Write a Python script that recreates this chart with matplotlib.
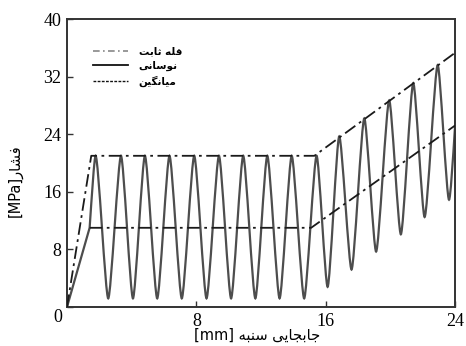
import matplotlib
matplotlib.use("Agg")
import matplotlib.pyplot as plt
from matplotlib.path import Path
from matplotlib.patches import PathPatch
from matplotlib.lines import Line2D

# ---- data ----
# loading ramp of the oscillating curve
ramp_x = [0.0, 1.4]
ramp_y = [0.0, 11.0]
# successive extrema of the oscillating pressure (peaks / troughs)
osc_x = [1.4, 1.77, 2.55, 3.34, 4.08, 4.82, 5.58, 6.34, 7.10, 7.87, 8.63, 9.40,
         10.15, 10.90, 11.65, 12.39, 13.15, 13.90, 14.67, 15.44, 16.12, 16.84,
         17.60, 18.39, 19.12, 19.93, 20.65, 21.42, 22.12, 22.93, 23.63, 24.40]
osc_y = [11.0, 21.0, 1.2, 21.0, 1.2, 21.0, 1.2, 21.0, 1.2, 21.0, 1.2, 21.0,
         1.2, 21.0, 1.2, 21.0, 1.2, 21.0, 1.2, 21.0, 2.8, 23.7,
         5.2, 26.2, 7.7, 28.7, 10.1, 31.1, 12.5, 33.6, 14.9, 36.2]
# constant-peak line
peak_x = [0.0, 1.5, 15.3, 24.0]
peak_y = [0.0, 21.0, 21.0, 35.3]
# mean line
mean_x = [1.4, 15.1, 24.0]
mean_y = [11.0, 11.0, 25.2]

x_ticks = [0, 8, 16, 24]
x_ticklabels = ["", "8", "16", "24"]
y_ticks = [0, 8, 16, 24, 32, 40]
y_ticklabels = ["", "8", "16", "24", "32", "40"]

# Persian texts (pre-shaped, visual order)
lbl_peak = "\uFE96\uFE91\uFE8E\uFE9B \uFEEA\uFEE0\uFED7"     # قله ثابت
lbl_osc = "\uFEF0\uFEE7\uFE8E\uFEB3\uFEEE\uFEE7"             # نوسانی
lbl_mean = "\uFEE6\uFEF4\uFB95\uFEE7\uFE8E\uFEF4\uFEE3"      # میانگین
xlabel = "[mm] \uFEEA\uFE92\uFEE8\uFEB3 \uFEF0\uFEF3\uFE8E\uFEA0\uFE91\uFE8E\uFE9F"  # جابجایی سنبه [mm]
ylabel = "[MPa]\uFEAD\uFE8E\uFEB8\uFED3"                      # فشار[MPa]

# ---- figure ----
fig = plt.figure(figsize=(4.66, 3.46), dpi=100)
ax = fig.add_axes([67/466, 1 - 307/346, 388/466, 288/346])

ax.set_xlim(0, 24)
ax.set_ylim(0, 40)

osc_color = "#4d4d4d"
line_color = "#1a1a1a"

# oscillating curve: ramp + smooth half-waves between extrema
verts = [(ramp_x[0], ramp_y[0])]
codes = [Path.MOVETO]
for xv, yv in zip(ramp_x[1:], ramp_y[1:]):
    verts.append((xv, yv)); codes.append(Path.LINETO)
k = 0.22
for i in range(len(osc_x) - 1):
    xa, ya, xb, yb = osc_x[i], osc_y[i], osc_x[i + 1], osc_y[i + 1]
    dx, dy = xb - xa, yb - ya
    if i == 0:
        p1 = (xa + dx / 3, ya + dy * 0.4)
    else:
        p1 = (xa + k * dx, ya)
    p2 = (xb - k * dx, yb)
    verts += [p1, p2, (xb, yb)]
    codes += [Path.CURVE4] * 3
ax.add_patch(PathPatch(Path(verts, codes), facecolor="none",
                       edgecolor=osc_color, lw=1.6, zorder=2))

ax.plot(peak_x, peak_y, color=line_color, lw=1.3,
        dashes=(7, 2.5, 1.5, 2.5), zorder=3)
ax.plot(mean_x, mean_y, color=line_color, lw=1.3,
        dashes=(7, 2.5, 1.5, 2.5), zorder=3)

# axes styling
for s in ax.spines.values():
    s.set_color("#333333")
    s.set_linewidth(1.4)
ax.set_xticks(x_ticks)
ax.set_xticklabels(x_ticklabels)
ax.set_yticks(y_ticks)
ax.set_yticklabels(y_ticklabels)
ax.tick_params(direction="in", length=4, width=1.0, color="#333333",
               labelsize=13, pad=4)
for t in ax.get_xticklabels() + ax.get_yticklabels():
    t.set_family("Liberation Serif")
ax.annotate("0", xy=(0, 0), xycoords="data", xytext=(-9, -10),
            textcoords="offset pixels", ha="center", va="center",
            fontsize=13, family="Liberation Serif")

ax.set_xlabel(xlabel, family=["DejaVu Sans"], fontsize=10.5, va="center")
ax.xaxis.set_label_coords(0.49, -0.098)
ax.set_ylabel(ylabel, family=["DejaVu Sans"], fontsize=10.5)
ax.yaxis.set_label_coords(-0.115, 0.44)

handles = [
    Line2D([], [], color="#888888", lw=1.2, dashes=(4, 2, 1, 2)),
    Line2D([], [], color="#111111", lw=1.3),
    Line2D([], [], color="#111111", lw=1.0, dashes=(2, 1)),
]
leg = ax.legend(handles, [lbl_peak, lbl_osc, lbl_mean], loc="upper left",
                bbox_to_anchor=(0.067, 0.905), frameon=False,
                handlelength=3.4, handletextpad=1.0, labelspacing=0.45,
                borderpad=0, borderaxespad=0,
                prop={"family": "DejaVu Sans", "weight": "bold", "size": 7.5})

fig.savefig("out.png", dpi=100)
